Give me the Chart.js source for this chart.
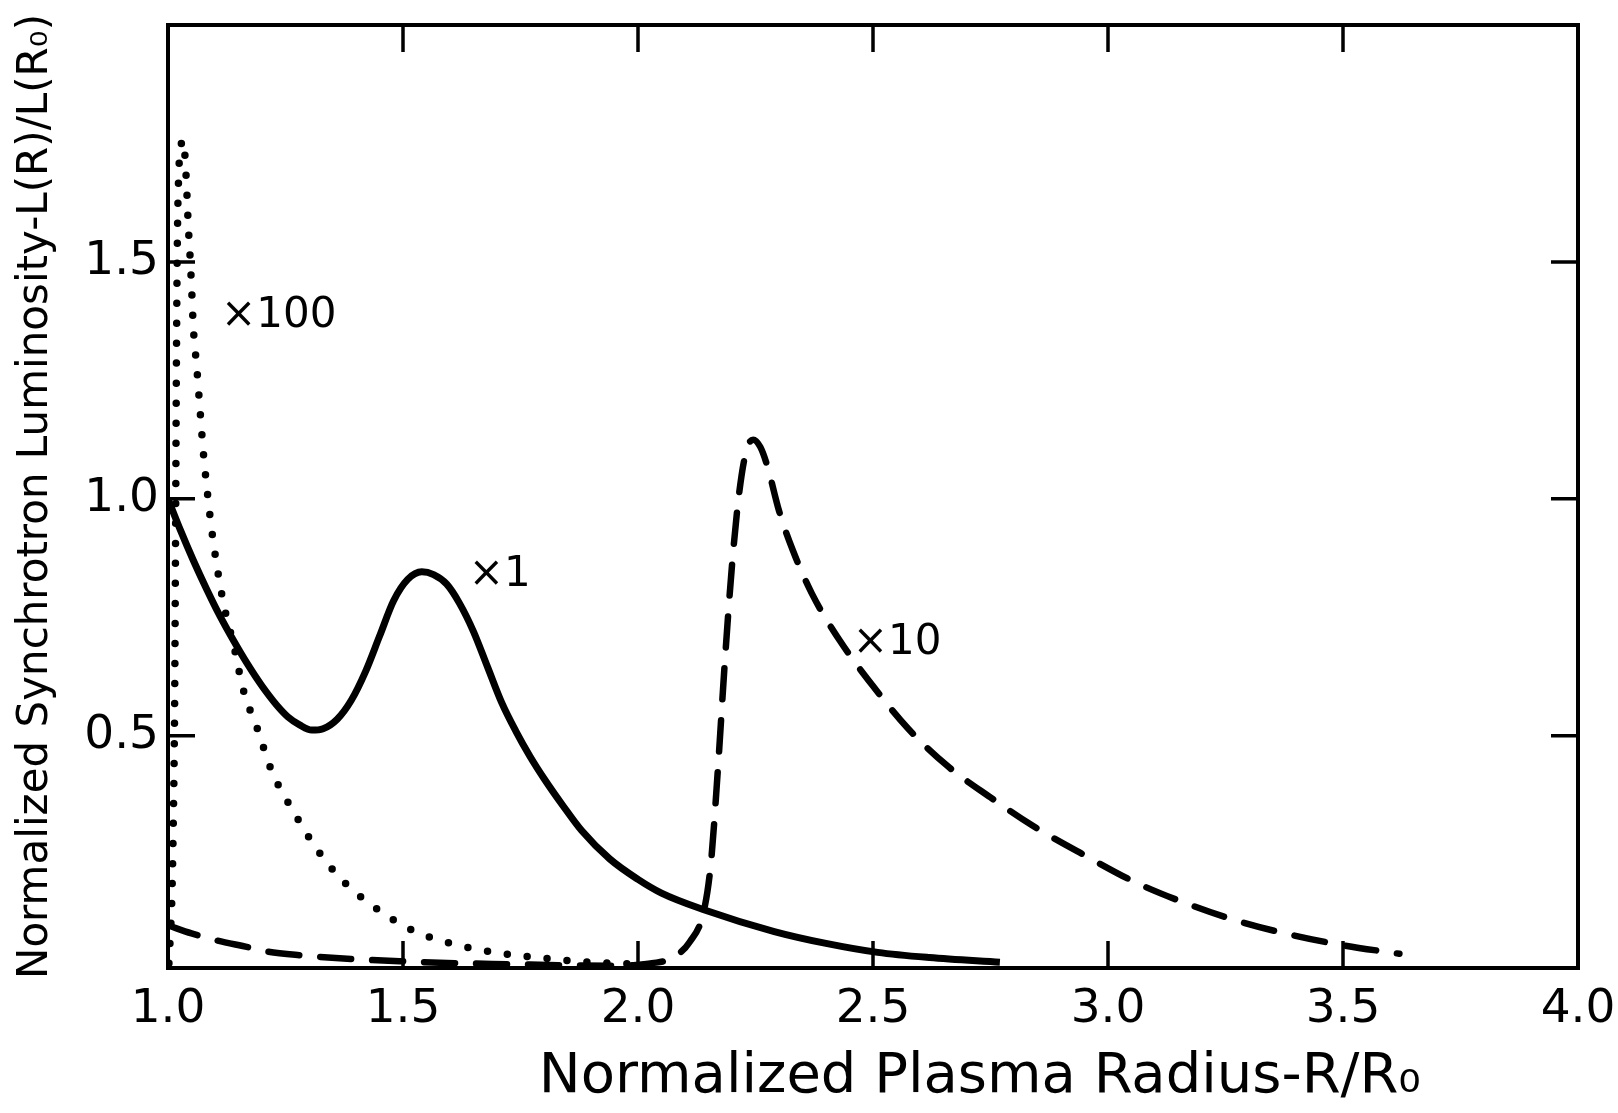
<!DOCTYPE html>
<html>
<head>
<meta charset="utf-8">
<script src="https://cdn.jsdelivr.net/npm/chart.js@4.4.1/dist/chart.umd.min.js"></script>
<style>
  html, body { margin: 0; padding: 0; background: #fff; }
  canvas { display: block; }
</style>
</head>
<body>
<canvas id="lumChart" width="1618" height="1113"></canvas>
<script>
// ================= DATA =================
// x1 curve (solid)
const solidX = [1.0, 1.026, 1.054, 1.082, 1.111, 1.14, 1.17, 1.2, 1.231, 1.255, 1.28, 1.306, 1.33, 1.36, 1.39, 1.42, 1.45, 1.48, 1.51, 1.54, 1.565, 1.593, 1.62, 1.65, 1.68, 1.71, 1.74, 1.77, 1.8, 1.84, 1.88, 1.94, 2.0, 2.05, 2.14, 2.29, 2.4, 2.51, 2.62, 2.77];
const solidY = [1.0, 0.935, 0.87, 0.81, 0.752, 0.70, 0.65, 0.605, 0.565, 0.54, 0.523, 0.512, 0.515, 0.535, 0.575, 0.635, 0.71, 0.785, 0.83, 0.846, 0.84, 0.82, 0.78, 0.72, 0.645, 0.57, 0.51, 0.457, 0.41, 0.353, 0.30, 0.24, 0.197, 0.168, 0.133, 0.087, 0.062, 0.043, 0.032, 0.022];

// x10 curve (dashed)
const dashX = [1.0, 1.05, 1.1, 1.17, 1.21, 1.28, 1.39, 1.5, 1.62, 1.73, 1.83, 1.94, 1.99, 2.03, 2.07, 2.11, 2.14, 2.155, 2.17, 2.185, 2.2, 2.215, 2.23, 2.245, 2.26, 2.275, 2.3, 2.33, 2.37, 2.43, 2.5, 2.575, 2.66, 2.75, 2.84, 2.95, 3.06, 3.17, 3.28, 3.39, 3.5, 3.62];
const dashY = [0.10, 0.083, 0.069, 0.054, 0.045, 0.037, 0.029, 0.024, 0.02, 0.018, 0.016, 0.015, 0.016, 0.02, 0.03, 0.065, 0.13, 0.23, 0.43, 0.66, 0.86, 1.01, 1.10, 1.125, 1.11, 1.07, 0.975, 0.89, 0.80, 0.70, 0.605, 0.515, 0.435, 0.37, 0.31, 0.248, 0.19, 0.145, 0.108, 0.08, 0.058, 0.04];

// x100 curve (dotted)
const dotX = [1.002, 1.005, 1.008, 1.011, 1.014, 1.016, 1.018, 1.02, 1.023, 1.027, 1.031, 1.036, 1.04, 1.043, 1.047, 1.05, 1.054, 1.061, 1.068, 1.075, 1.082, 1.091, 1.103, 1.118, 1.14, 1.16, 1.19, 1.221, 1.267, 1.316, 1.371, 1.437, 1.515, 1.602, 1.702, 1.806, 1.9, 2.0];
const dotY = [0.02, 0.08, 0.15, 0.3, 0.55, 0.9, 1.3, 1.55, 1.69, 1.74, 1.758, 1.725, 1.65, 1.58, 1.51, 1.45, 1.36, 1.28, 1.19, 1.10, 1.03, 0.95, 0.865, 0.78, 0.69, 0.598, 0.515, 0.425, 0.34, 0.262, 0.195, 0.14, 0.092, 0.062, 0.042, 0.03, 0.022, 0.018];

// axes
const xTicks = [1.0, 1.5, 2.0, 2.5, 3.0, 3.5, 4.0];
const yTicks = [0.5, 1.0, 1.5];
const innerXTicks = [1.5, 2.0, 2.5, 3.0, 3.5];
const innerYTicks = [0.5, 1.0, 1.5];

// curve labels
const curveLabels = ['×100', '×1', '×10'];
const curveLabelX = [1.113, 1.64, 2.457];
const curveLabelY = [1.385, 0.84, 0.695];

const FONT = "'DejaVu Sans', sans-serif";

function toPoints(xs, ys){
  return xs.map((x,i)=>({x:x, y:ys[i]}));
}

// ================= FRAME + INNER TICKS + LABELS =================
const framePlugin = {
  id: 'frame',
  afterDatasetsDraw(chart){
    const ctx = chart.ctx;
    const a = chart.chartArea;
    const sx = chart.scales.x;
    const sy = chart.scales.y;
    const tl = 27;

    ctx.save();
    ctx.strokeStyle = '#000';
    ctx.lineWidth = 4;
    ctx.strokeRect(a.left, a.top, a.right - a.left, a.bottom - a.top);

    ctx.lineWidth = 3.5;
    ctx.beginPath();
    innerXTicks.forEach(v=>{
      const px = sx.getPixelForValue(v);
      ctx.moveTo(px, a.bottom); ctx.lineTo(px, a.bottom - tl);
      ctx.moveTo(px, a.top); ctx.lineTo(px, a.top + tl);
    });
    innerYTicks.forEach(v=>{
      const py = sy.getPixelForValue(v);
      ctx.moveTo(a.left, py); ctx.lineTo(a.left + tl, py);
      ctx.moveTo(a.right, py); ctx.lineTo(a.right - tl, py);
    });
    ctx.stroke();

    ctx.fillStyle = '#000';
    ctx.font = '42px ' + FONT;
    ctx.textAlign = 'left';
    ctx.textBaseline = 'middle';
    curveLabels.forEach((t,i)=>{
      ctx.fillText(t, sx.getPixelForValue(curveLabelX[i]), sy.getPixelForValue(curveLabelY[i]));
    });
    ctx.restore();
  }
};

// ================= CHART =================
const ctx = document.getElementById('lumChart');

const lumChart = new Chart(ctx,{
type:'scatter',
data:{
datasets:[
{
label:'x1',
data:toPoints(solidX, solidY),
showLine:true,
borderColor:'#000',
borderWidth:7,
pointRadius:0,
cubicInterpolationMode:'monotone'
},
{
label:'x10',
data:toPoints(dashX, dashY),
showLine:true,
borderColor:'#000',
borderWidth:6.5,
borderDash:[31,21],
borderCapStyle:'round',
pointRadius:0,
cubicInterpolationMode:'monotone'
},
{
label:'x100',
data:toPoints(dotX, dotY),
showLine:true,
borderColor:'#000',
borderWidth:7.5,
borderDash:[0,20],
borderCapStyle:'round',
pointRadius:0,
cubicInterpolationMode:'monotone'
}
]
},
options:{
responsive:false,
animation:false,
devicePixelRatio:1,
layout:{padding:{top:25, right:40, left:0, bottom:0}},
plugins:{
legend:{display:false},
tooltip:{enabled:false}
},
scales:{
x:{
type:'linear',
min:1.0,
max:4.0,
grid:{display:false, drawTicks:false},
border:{display:false},
afterBuildTicks:s=>{ s.ticks = xTicks.map(v=>({value:v})); },
afterFit:s=>{ s.height = 145; s.paddingLeft = 0; s.paddingRight = 0; },
ticks:{
autoSkip:false,
maxRotation:0,
padding:14,
color:'#000',
font:{family:FONT, size:47},
callback:v=>Number(v).toFixed(1)
},
title:{
display:true,
// leading spaces push the title right, as in the original
text:'            Normalized Plasma Radius-R/R₀',
color:'#000',
font:{family:FONT, size:56},
padding:{top:0, bottom:2}
}
},
y:{
type:'linear',
min:0.01,
max:2.0,
grid:{display:false, drawTicks:false},
border:{display:false},
afterBuildTicks:s=>{ s.ticks = yTicks.map(v=>({value:v})); },
afterFit:s=>{ s.width = 168; s.paddingTop = 0; s.paddingBottom = 0; },
ticks:{
padding:9,
color:'#000',
font:{family:FONT, size:47},
callback:v=>Number(v).toFixed(1)
},
title:{
display:true,
text:'Normalized Synchrotron Luminosity-L(R)/L(R₀)',
color:'#000',
font:{family:FONT, size:42},
padding:{top:11, bottom:0}
}
}
}
},
plugins:[framePlugin]
});
</script>
</body>
</html>
